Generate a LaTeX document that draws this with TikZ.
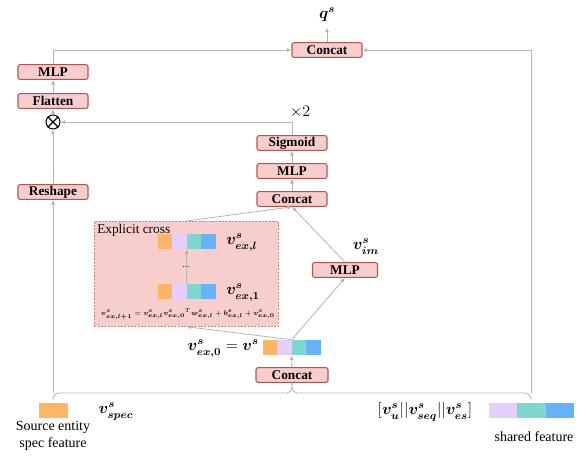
\documentclass[tikz,border=0pt]{standalone}
\usepackage{amsmath}
\usepackage{amssymb}
\usepackage{graphicx}
\usepackage{fontspec}
\setmainfont{Liberation Serif}
\usetikzlibrary{arrows.meta}

\definecolor{opfill}{RGB}{248,206,204}
\definecolor{opline}{RGB}{184,84,80}
\definecolor{wiregray}{RGB}{180,180,180}
\definecolor{cOrange}{RGB}{255,180,102}
\definecolor{cLav}{RGB}{229,206,255}
\definecolor{cTeal}{RGB}{126,214,206}
\definecolor{cBlue}{RGB}{102,178,255}

\begin{document}
\begin{tikzpicture}[x=0.75pt,y=0.75pt,yscale=-1,xscale=1,
	op/.style={draw=opline, fill=opfill, rounded corners=1.5pt, line width=0.8pt, minimum width=52.5pt, minimum height=11pt, inner sep=0pt, font=\bfseries\fontsize{10}{12}\selectfont},
	wire/.style={draw=wiregray, line width=0.6pt},
	arr/.style={wire, -{Latex[length=3.5pt,width=3pt]}},
	seg/.style={minimum width=10.9pt, minimum height=11.25pt, inner sep=0pt},
	lbl/.style={inner sep=0pt, font=\fontsize{12}{14}\selectfont},
	txt/.style={inner sep=0pt, font=\fontsize{10.5}{12.75}\selectfont}]
				\useasboundingbox (0,0) rectangle (587,457);
				
				%Shape: Explicit cross [id:xbox]
				\node [draw=opline!70, fill=opfill, dash pattern=on 1.5pt off 1pt, line width=0.5pt, minimum width=138pt, minimum height=78.75pt, inner sep=0pt, anchor=north west] (xbox) at (94,221) {};
				
				%Shape: Operators
				\node [op] (cat0) at (327,50) {Concat};
				\node [op] (mlpL) at (53,72) {MLP};
				\node [op] (flat) at (53,101) {Flatten};
				\node [draw=black, circle, line width=0.8pt, minimum size=10.5pt, inner sep=0pt] (mul) at (53,122) {};
				\draw [line width=0.8pt] (mul.north west) -- (mul.south east) (mul.north east) -- (mul.south west);
				\node [op] (resh) at (53,192) {Reshape};
				\node [op] (sig) at (292,143) {Sigmoid};
				\node [op] (mlpM) at (292,171) {MLP};
				\node [op] (catM) at (292,199) {Concat};
				\node [op, minimum width=48.75pt] (mlpR) at (345,270) {MLP};
				\node [op, minimum width=54pt] (catB) at (292,375) {Concat};
				
				%Shape: Feature vectors
				\foreach \c [count=\i] in {cOrange,cLav,cTeal,cBlue} {
					\node [seg, fill=\c] (vl\i) at ({158+(\i-0.5)*14.5},241.5) {};
					\node [seg, fill=\c] (v1\i) at ({158+(\i-0.5)*14.5},291.5) {};
					\node [seg, fill=\c] (v0\i) at ({263+(\i-0.5)*14.5},347.5) {};
				}
				\node [seg, fill=cOrange, minimum width=21.75pt] (spec) at (53.5,410.5) {};
				\foreach \c [count=\i] in {cLav,cTeal,cBlue}
					\node [seg, fill=\c, minimum width=21.25pt] (sh\i) at ({489+(\i-0.5)*28.33},410.5) {};
				
				%Straight Lines
				\coordinate (spl) at (53,393);
				\coordinate (shr) at (531,393);
				\draw [wire, rounded corners=4pt] (53,400) -- (spl) -- (292,393) -- (catB.south);
				\draw [wire, rounded corners=4pt] (531,400) -- (shr) -- (292,393) -- (catB.south);
				\draw [arr] (spl) -- (resh);
				\draw [arr] (resh) -- (mul);
				\draw [arr] (mul) -- (flat);
				\draw [arr] (flat) -- (mlpL);
				\draw [arr] (mlpL) |- (cat0);
				\draw [arr] (shr) |- (cat0);
				\draw [arr] (catB) -- (v03.south west);
				\draw [arr] (v03.north west) -- (xbox.south);
				\draw [arr] (v03.north west) -- (mlpR.south);
				\draw [arr] (mlpR.north) -- (catM.south);
				\draw [arr] (xbox.north) -- (catM.south);
				\draw [arr] (catM) -- (mlpM);
				\draw [arr] (mlpM) -- (sig);
				\draw [arr] (sig.north) |- (mul);
				\draw [arr] (v13.north west) -- (vl3.south west);
				
				% Text Node
				\node [lbl, inner sep=4pt] (qs) at (327,15) {$\boldsymbol{q^{s}}$};
				\draw [arr] (cat0) -- (qs);
				% Text Node
				\node [lbl] (rep) at (300,112) {$\times 2$};
				% Text Node
				\node [txt, font=\fontsize{10}{12}\selectfont, anchor=north west] (xtitle) at (97,224) {Explicit cross};
				% Text Node
				\node [lbl, anchor=west] (lvl) at (226,243) {$\boldsymbol{v^{s}_{ex,l}}$};
				% Text Node
				\node [lbl, anchor=west] (lv1) at (226,293) {$\boldsymbol{v^{s}_{ex,1}}$};
				% Text Node
				\node [inner sep=0pt, fill=opfill, font=\fontsize{7}{8}\selectfont] (dots) at (186,267) {...};
				% Text Node
				\node [inner sep=0pt, font=\fontsize{6.5}{8}\selectfont] (upd) at (188,314) {\scalebox{0.85}{$\boldsymbol{v^{s}_{ex,l+1}} = \boldsymbol{v^{s}_{ex,l}}{\boldsymbol{v^{s}_{ex,0}}}^{T}\boldsymbol{w^{s}_{ex,l}} + \boldsymbol{b^{s}_{ex,l}} + \boldsymbol{v^{s}_{ex,0}}$}};
				% Text Node
				\node [lbl] (vim) at (366,247) {$\boldsymbol{v^{s}_{im}}$};
				% Text Node
				\node [lbl, anchor=east] (v0lbl) at (259,349) {$\boldsymbol{v^{s}_{ex,0}} = \boldsymbol{v^{s}}$};
				% Text Node
				\node [lbl] (vspec) at (116,412) {$\boldsymbol{v^{s}_{spec}}$};
				% Text Node
				\node [txt, align=center] (srcL) at (53,436) {Source entity\\spec feature};
				% Text Node
				\node [lbl] (vsh) at (425,412) {$[\boldsymbol{v^{s}_{u}}||\boldsymbol{v^{s}_{seq}}||\boldsymbol{v^{s}_{es}}]$};
				% Text Node
				\node [txt] (shL) at (534,437) {shared feature};
				
\end{tikzpicture}
\end{document}
